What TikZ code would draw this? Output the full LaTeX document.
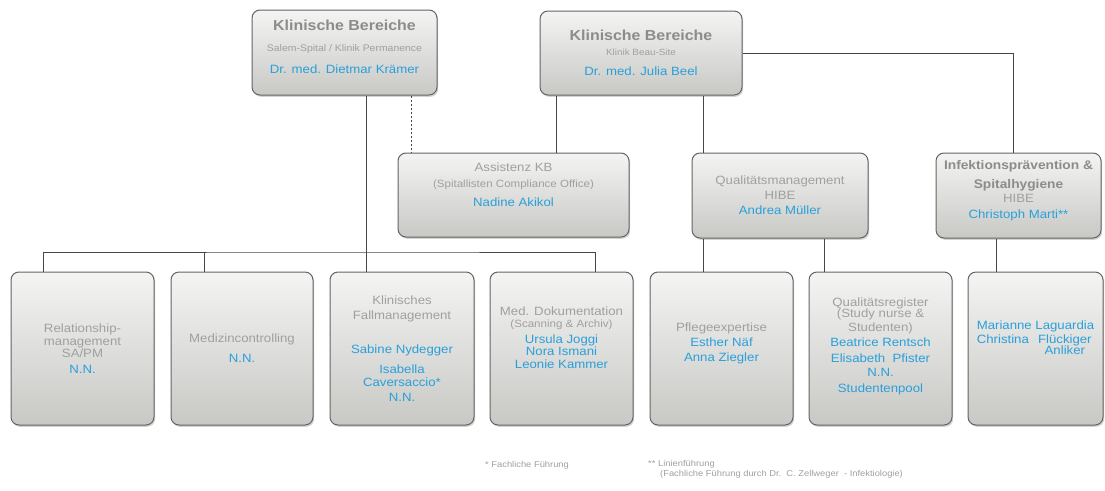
\documentclass[tikz,border=0pt]{standalone}
\usepackage{fontspec}
\setmainfont[FakeStretch=1.1]{Liberation Sans}
\usepackage{tikz}
\usetikzlibrary{positioning, shadows}
\definecolor{boxline}{RGB}{100, 100, 100}
\definecolor{boxtop}{RGB}{244, 244, 243}
\definecolor{boxbottom}{RGB}{200, 200, 197}
\definecolor{titlegray}{RGB}{140, 140, 140}
\definecolor{txtgray}{RGB}{160, 160, 160}
\definecolor{nameblue}{RGB}{41, 160, 218}
\definecolor{wire}{RGB}{70, 70, 70}
\newcommand{\nm}[1]{\textcolor{nameblue}{#1}}
\newcommand{\ttl}{\fontsize{14.5}{17}\selectfont\bfseries\color{titlegray}}
\newcommand{\sub}{\fontsize{9.5}{11}\selectfont}

\begin{document}
\begin{tikzpicture}[x=1pt, y=-1pt,
        unit/.style={rectangle, draw=boxline, line width=1pt, rounded corners=8pt, top color=boxtop, bottom color=boxbottom, drop shadow={shadow xshift=1.2pt, shadow yshift=-1.8pt, opacity=0.35}, align=center, text=txtgray, font=\fontsize{12}{14}\selectfont, inner sep=2pt},
        team/.style={unit, minimum width=#1, minimum height=153pt},
        link/.style={draw=wire, line width=0.9pt},
        note/.style={font=\fontsize{8.5}{11}\selectfont, text=txtgray, inner sep=0pt}
    ]
        \path[use as bounding box, fill=white] (0,0) rectangle (1105,490);

        % top level
        \node (kbsalem) [unit, minimum width=185pt, minimum height=85pt, text depth=12pt] at (344.5,52.5) {{\ttl Klinische Bereiche}\\[7pt]{\sub Salem-Spital / Klinik Permanence}\\[8pt]\nm{Dr. med. Dietmar Krämer}};
        \node (kbbeau) [unit, minimum width=202pt, minimum height=84pt, text depth=0pt] at (641,53) {{\ttl Klinische Bereiche}\\[1pt]{\fontsize{9}{11}\selectfont Klinik Beau-Site}\\[6pt]\nm{Dr. med. Julia Beel}};

        % second level
        \node (assistenz) [unit, minimum width=231pt, minimum height=84pt, text depth=21pt] at (513.5,195) {Assistenz KB\\[2pt]{\fontsize{10.5}{12}\selectfont (Spitallisten Compliance Office)}\\[5pt]\nm{Nadine Akikol}};
        \node (qm) [unit, minimum width=176pt, minimum height=85pt, text depth=0pt] at (780,195.5) {Qualitätsmanagement\\[1pt]HIBE\\[1pt]\nm{Andrea Müller}};
        \node (infekt) [unit, minimum width=165pt, minimum height=85pt, text depth=13pt] at (1018.5,195.5) {{\fontsize{12.5}{14}\selectfont\bfseries\color{titlegray}Infektionsprävention~\&}\\[5pt]{\fontsize{12.5}{14}\selectfont\bfseries\color{titlegray}Spitalhygiene}\\HIBE\\[2pt]\nm{Christoph Marti**}};

        % teams
        \node (relmgmt) [team=143pt, text depth=0pt] at (82.5,348.5) {Relationship-\\[-1pt]management\\[-2pt]SA/PM\\[2pt]\nm{N.N.}};
        \node (medctrl) [team=142pt] at (242,348.5) {Medizincontrolling\\[6pt]\nm{N.N.}};
        \node (fallmgmt) [team=144pt] at (402,348.5) {Klinisches\\[1pt]Fallmanagement\\[20pt]\nm{Sabine Nydegger}\\[6pt]\nm{Isabella}\\[-1pt]\nm{Caversaccio*}\\[1pt]\nm{N.N.}};
        \node (meddok) [team=143pt, text depth=21pt] at (561.5,348.5) {Med. Dokumentation\\[-2pt]{\fontsize{10.5}{12}\selectfont (Scanning \& Archiv)}\\[2pt]\nm{Ursula Joggi}\\[-2pt]\nm{Nora Ismani}\\[-1pt]\nm{Leonie Kammer}};
        \node (pflege) [team=143pt, text depth=13pt] at (721.5,348.5) {Pflegeexpertise\\[1pt]\nm{Esther Näf}\\[1pt]\nm{Anna Ziegler}};
        \node (qreg) [team=143pt, text depth=7pt] at (880.5,348.5) {Qualitätsregister\\[-3pt](Study nurse \&\\Studenten)\\[1pt]\nm{Beatrice Rentsch}\\[2pt]\nm{Elisabeth\ \ Pfister}\\\nm{N.N.}\\[2pt]\nm{Studentenpool}};
        \node (hygteam) [team=135pt, text depth=36pt] at (1035.5,348.5) {\color{nameblue}\begin{tabular}{@{}l@{\ }c@{}}Marianne & Laguardia\\Christina & Flückiger\\[-3pt] & Anliker\end{tabular}};

        % lines
        \coordinate (bus) at (366,252);
        \draw[link] (kbsalem.south -| bus) -- (fallmgmt.north -| bus);
        \draw[link] (relmgmt.north -| 43,0) |- (bus) -| (meddok.north -| 595,0);
        \draw[link] (medctrl.north -| 204,0) -- (bus -| 204,0);
        \draw[link, dash pattern=on 2.5pt off 1.5pt] (kbsalem.south -| 411,0) -- (assistenz.north -| 411,0);
        \draw[link] (kbbeau.south -| 556,0) -- (assistenz.north -| 556,0);
        \draw[link] (kbbeau.south -| 703,0) -- (qm.north -| 703,0);
        \draw[link] (kbbeau.east) -| (infekt.north -| 1013,0);
        \draw[link] (qm.south -| 703,0) -- (pflege.north -| 703,0);
        \draw[link] (qm.south -| 824,0) -- (qreg.north -| 824,0);
        \draw[link] (infekt.south -| 996,0) -- (hygteam.north -| 996,0);

        % footnotes
        \node (fn1) [note, anchor=base west] at (485,467) {* Fachliche Führung};
        \node (fn2) [note, anchor=north west, align=left] at (648,460) {** Linienführung\\[-1pt]\hspace{12pt}(Fachliche Führung durch Dr.\ \ C. Zellweger\ \ - Infektiologie)};
    \end{tikzpicture}
\end{document}
